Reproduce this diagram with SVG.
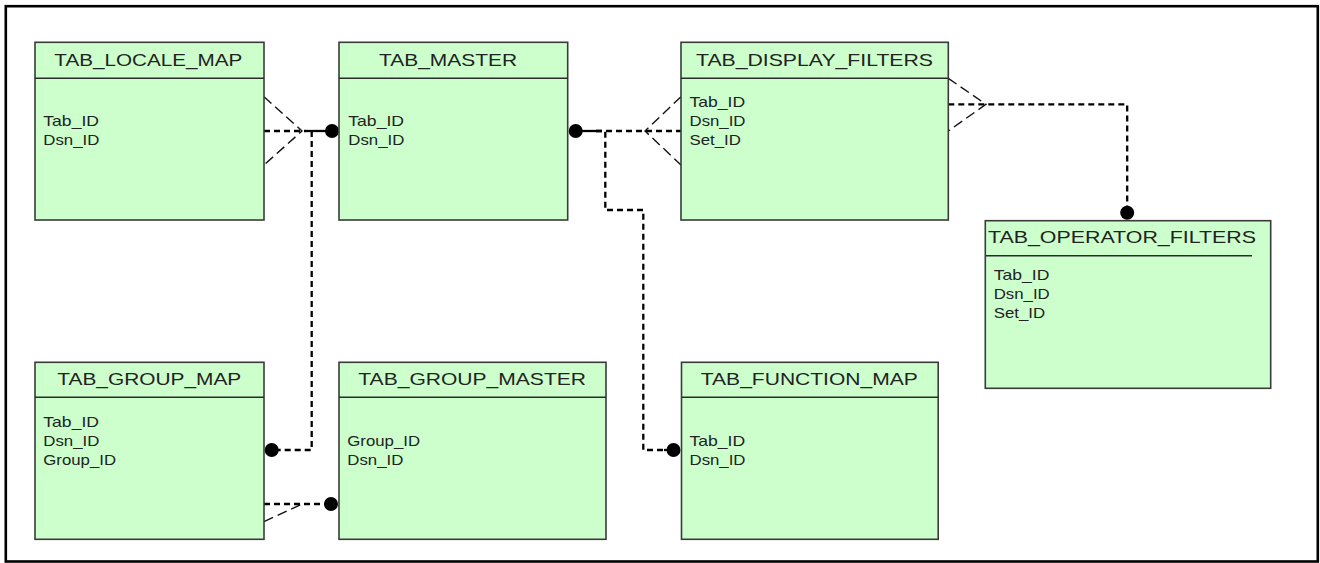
<svg xmlns="http://www.w3.org/2000/svg" width="1320" height="563" viewBox="0 0 1320 563">
<style>
.box{fill:#ccffcc;stroke:#3a3a3a;stroke-width:1.6}
.hl{stroke:#2a2a2a;stroke-width:1.6}
.hd{font-family:"Liberation Sans",Arial,sans-serif;font-size:17px;fill:#222}
.at{font-family:"Liberation Sans",Arial,sans-serif;font-size:14.5px;fill:#222}
.cn{fill:none;stroke:#000;stroke-width:2.3;stroke-dasharray:6 4}
.cf{fill:none;stroke:#111;stroke-width:1.4;stroke-dasharray:10 5}
.dot{fill:#000}
</style>
<rect x="0" y="0" width="1320" height="563" fill="#fff"/>
<rect x="5.8" y="6.2" width="1312" height="555.3" fill="none" stroke="#000" stroke-width="2.6"/>

<g id="connectors">
  <!-- LOCALE_MAP - MASTER -->
  <path class="cf" d="M264,96.7 L302,131 L264,165"/>
  <path class="cn" d="M264,131 H306"/>
  <path d="M306,131 H332" stroke="#000" stroke-width="2.3" fill="none"/>
  <circle class="dot" cx="332" cy="131" r="7"/>
  <!-- MASTER - GROUP_MAP -->
  <path class="cn" d="M311.7,131 V450 H272"/>
  <circle class="dot" cx="271.7" cy="450" r="7"/>
  <!-- GROUP_MAP - GROUP_MASTER -->
  <path class="cn" d="M264,504 H325"/>
  <path class="cf" d="M264,521.7 L302,504"/>
  <circle class="dot" cx="331" cy="504" r="7"/>
  <!-- MASTER - DISPLAY_FILTERS -->
  <circle class="dot" cx="575.7" cy="131" r="7"/>
  <path d="M576,131 H596" stroke="#000" stroke-width="2.3" fill="none"/>
  <path class="cn" d="M596,131 H681"/>
  <path class="cf" d="M681,96.7 L645,131 L681,165"/>
  <!-- MASTER - FUNCTION_MAP -->
  <path class="cn" d="M596,131 H605.3 V210 H643.3 V450 H666"/>
  <path d="M664,450 H674" stroke="#000" stroke-width="2.3" fill="none"/>
  <circle class="dot" cx="673.5" cy="450" r="7"/>
  <!-- DISPLAY_FILTERS - OPERATOR_FILTERS -->
  <path class="cf" d="M948.3,78.3 L986,104.3 L948.3,131"/>
  <path class="cn" d="M948.3,104.3 H1127.2 V206"/>
  <circle class="dot" cx="1127.2" cy="212.7" r="7"/>
</g>

<g id="TAB_LOCALE_MAP">
  <rect class="box" x="35" y="42.3" width="229" height="177.7"/>
  <line class="hl" x1="35" y1="78.3" x2="264" y2="78.3"/>
  <text class="hd" x="54.3" y="65.7" textLength="188" lengthAdjust="spacingAndGlyphs">TAB_LOCALE_MAP</text>
  <text class="at" x="43.3" y="126" textLength="55.7" lengthAdjust="spacingAndGlyphs">Tab_ID</text>
  <text class="at" x="43.3" y="145" textLength="56" lengthAdjust="spacingAndGlyphs">Dsn_ID</text>
</g>

<g id="TAB_MASTER">
  <rect class="box" x="339" y="42.3" width="228.7" height="177.7"/>
  <line class="hl" x1="339" y1="78.3" x2="567.7" y2="78.3"/>
  <text class="hd" x="379" y="65.7" textLength="138" lengthAdjust="spacingAndGlyphs">TAB_MASTER</text>
  <text class="at" x="348.3" y="126" textLength="55.7" lengthAdjust="spacingAndGlyphs">Tab_ID</text>
  <text class="at" x="348.3" y="145" textLength="56" lengthAdjust="spacingAndGlyphs">Dsn_ID</text>
</g>

<g id="TAB_DISPLAY_FILTERS">
  <rect class="box" x="681" y="42.3" width="267.3" height="177.7"/>
  <line class="hl" x1="681" y1="78.3" x2="948.3" y2="78.3"/>
  <text class="hd" x="696" y="65.7" textLength="237" lengthAdjust="spacingAndGlyphs">TAB_DISPLAY_FILTERS</text>
  <text class="at" x="689.5" y="106.7" textLength="55.7" lengthAdjust="spacingAndGlyphs">Tab_ID</text>
  <text class="at" x="689.5" y="125.7" textLength="56" lengthAdjust="spacingAndGlyphs">Dsn_ID</text>
  <text class="at" x="689.5" y="144.7" textLength="51.4" lengthAdjust="spacingAndGlyphs">Set_ID</text>
</g>

<g id="TAB_OPERATOR_FILTERS">
  <rect class="box" x="985.3" y="220.7" width="285.4" height="167.6"/>
  <line class="hl" x1="986" y1="255.7" x2="1252" y2="255.7"/>
  <text class="hd" x="988" y="242.7" textLength="268" lengthAdjust="spacingAndGlyphs">TAB_OPERATOR_FILTERS</text>
  <text class="at" x="993.7" y="280" textLength="55.7" lengthAdjust="spacingAndGlyphs">Tab_ID</text>
  <text class="at" x="993.7" y="299" textLength="56" lengthAdjust="spacingAndGlyphs">Dsn_ID</text>
  <text class="at" x="993.7" y="318" textLength="51.4" lengthAdjust="spacingAndGlyphs">Set_ID</text>
</g>

<g id="TAB_GROUP_MAP">
  <rect class="box" x="35" y="362.3" width="229" height="177"/>
  <line class="hl" x1="35" y1="397.3" x2="264" y2="397.3"/>
  <text class="hd" x="57.3" y="385" textLength="184" lengthAdjust="spacingAndGlyphs">TAB_GROUP_MAP</text>
  <text class="at" x="43.3" y="426.7" textLength="55.7" lengthAdjust="spacingAndGlyphs">Tab_ID</text>
  <text class="at" x="43.3" y="445.7" textLength="56" lengthAdjust="spacingAndGlyphs">Dsn_ID</text>
  <text class="at" x="43.3" y="464.7" textLength="72.7" lengthAdjust="spacingAndGlyphs">Group_ID</text>
</g>

<g id="TAB_GROUP_MASTER">
  <rect class="box" x="339" y="362.3" width="267" height="177"/>
  <line class="hl" x1="339" y1="397.3" x2="606" y2="397.3"/>
  <text class="hd" x="358.3" y="385" textLength="227.7" lengthAdjust="spacingAndGlyphs">TAB_GROUP_MASTER</text>
  <text class="at" x="347.3" y="445.7" textLength="72.7" lengthAdjust="spacingAndGlyphs">Group_ID</text>
  <text class="at" x="347.3" y="464.7" textLength="56" lengthAdjust="spacingAndGlyphs">Dsn_ID</text>
</g>

<g id="TAB_FUNCTION_MAP">
  <rect class="box" x="681.5" y="362.3" width="256.7" height="177"/>
  <line class="hl" x1="681.5" y1="397.3" x2="938.2" y2="397.3"/>
  <text class="hd" x="700.8" y="385" textLength="217" lengthAdjust="spacingAndGlyphs">TAB_FUNCTION_MAP</text>
  <text class="at" x="689.5" y="445.7" textLength="55.7" lengthAdjust="spacingAndGlyphs">Tab_ID</text>
  <text class="at" x="689.5" y="464.7" textLength="56" lengthAdjust="spacingAndGlyphs">Dsn_ID</text>
</g>
</svg>
